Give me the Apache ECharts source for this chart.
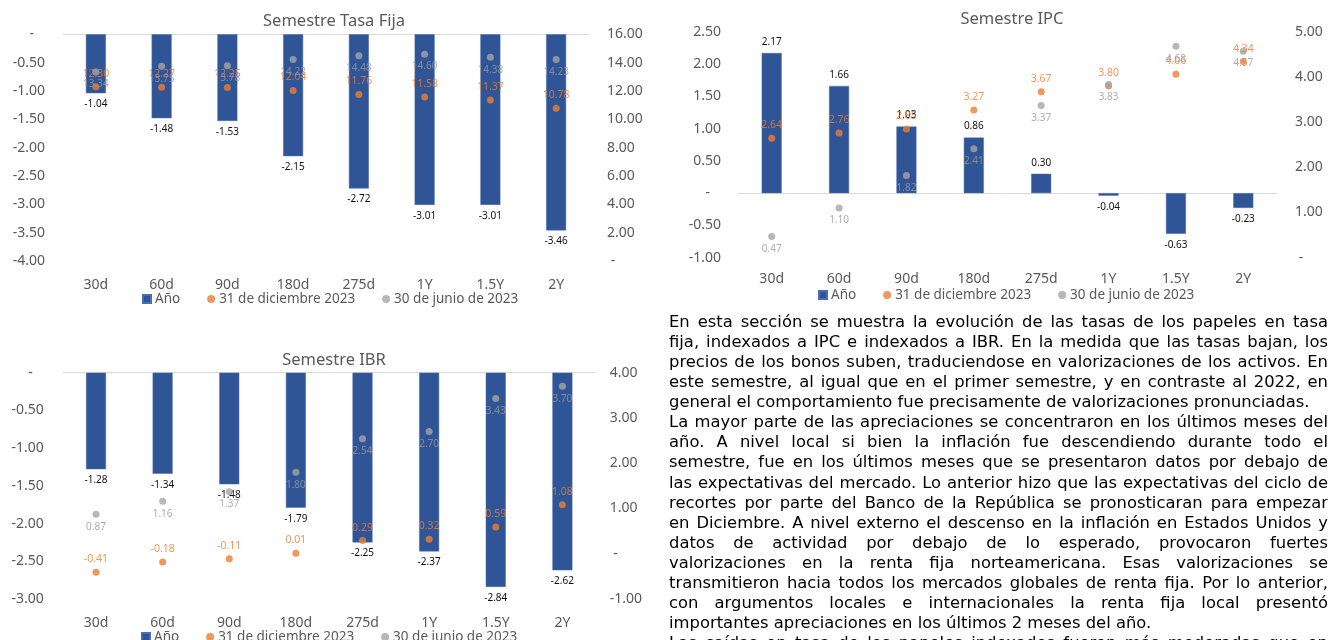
<!DOCTYPE html>
<html>
<head>
<meta charset="utf-8">
<script src="https://cdn.jsdelivr.net/npm/echarts@6/dist/echarts.min.js"></script>
<style>
html,body{margin:0;padding:0;background:#fff;overflow:hidden;}
#chart{position:absolute;left:0;top:0;width:1337px;height:640px;}
#txt{position:absolute;left:669px;top:312px;width:659px;height:340px;overflow:visible;}
#inner{transform-origin:0 0;font-family:"DejaVu Sans",Verdana,sans-serif;font-size:15px;color:#000;}
#inner div{height:20.07px;line-height:20.07px;white-space:nowrap;}
#inner div.j{text-align:justify;text-align-last:justify;white-space:normal;overflow:hidden;}
#inner div.l{text-align:left;}
</style>
</head>
<body>
<div id="chart"></div>
<div id="txt"><div id="inner">
<div class="j">En esta sección se muestra la evolución de las tasas de los papeles en tasa</div>
<div class="j">fija, indexados a IPC e indexados a IBR. En la medida que las tasas bajan, los</div>
<div class="j">precios de los bonos suben, traduciendose en valorizaciones de los activos. En</div>
<div class="j">este semestre, al igual que en el primer semestre, y en contraste al 2022, en</div>
<div class="l"><span id="ref">general el comportamiento fue precisamente de valorizaciones pronunciadas.</span></div>
<div class="j">La mayor parte de las apreciaciones se concentraron en los últimos meses del</div>
<div class="j">año. A nivel local si bien la inflación fue descendiendo durante todo el</div>
<div class="j">semestre, fue en los últimos meses que se presentaron datos por debajo de</div>
<div class="j">las expectativas del mercado. Lo anterior hizo que las expectativas del ciclo de</div>
<div class="j">recortes por parte del Banco de la República se pronosticaran para empezar</div>
<div class="j">en Diciembre. A nivel externo el descenso en la inflación en Estados Unidos y</div>
<div class="j">datos de actividad por debajo de lo esperado, provocaron fuertes</div>
<div class="j">valorizaciones en la renta fija norteamericana. Esas valorizaciones se</div>
<div class="j">transmitieron hacia todos los mercados globales de renta fija. Por lo anterior,</div>
<div class="j">con argumentos locales e internacionales la renta fija local presentó</div>
<div class="l">importantes apreciaciones en los últimos 2 meses del año.</div>
<div class="j">Las caídas en tasa de los papeles indexados fueron más moderadas que en</div>
</div></div>
<script>
// ---- Data ----
const categories = ['30d', '60d', '90d', '180d', '275d', '1Y', '1.5Y', '2Y'];
const seriesNames = ['Año', '31 de diciembre 2023', '30 de junio de 2023'];
const titles = ['Semestre Tasa Fija', 'Semestre IPC', 'Semestre IBR'];

const fijaAnio = [-1.04, -1.48, -1.53, -2.15, -2.72, -3.01, -3.01, -3.46];
const fijaDic  = [12.30, 12.27, 12.25, 12.04, 11.76, 11.58, 11.37, 10.78];
const fijaJun  = [13.34, 13.75, 13.78, 14.22, 14.48, 14.60, 14.38, 14.23];

const ipcAnio = [2.17, 1.66, 1.03, 0.86, 0.30, -0.04, -0.63, -0.23];
const ipcDic  = [2.64, 2.76, 2.85, 3.27, 3.67, 3.80, 4.06, 4.34];
const ipcJun  = [0.47, 1.10, 1.82, 2.41, 3.37, 3.83, 4.68, 4.57];

const ibrAnio = [-1.28, -1.34, -1.48, -1.79, -2.25, -2.37, -2.84, -2.62];
const ibrDic  = [-0.41, -0.18, -0.11, 0.01, 0.29, 0.32, 0.59, 1.08];
const ibrJun  = [0.87, 1.16, 1.37, 1.80, 2.54, 2.70, 3.43, 3.70];

// axis ranges [min, max, interval]
const fijaLeft = [-4, 0, 0.5], fijaRight = [0, 16, 2];
const ipcLeft = [-1, 2.5, 0.5], ipcRight = [0, 5, 1];
const ibrLeft = [-3, 0, 0.5], ibrRight = [-1, 4, 1];

// ---- Styling / layout ----
const FONT = 'Noto Sans';
const AX = '#595959';
const BLUE = '#2F5597', ORANGE = '#ED7D31', GRAY = '#A5A5A5';

const grids = [
  {left: 63, top: 34.3, width: 526, height: 226.7},
  {left: 738, top: 31.7, width: 539, height: 226},
  {left: 62.7, top: 372.7, width: 533, height: 226.3}
];
const titlePos = [{x: 329, y: 8}, {x: 1007, y: 6}, {x: 329, y: 347}];
const legendPos = [{x: 137, y: 287}, {x: 813, y: 283}, {x: 136, y: 625}];
const catMargins = [17, 14, 17];
const rightMargins = [18, 18, 14];
const leftMargins = [18, 17, 19];

const fmt = v => (Math.abs(v) < 1e-9 ? '-' : v.toFixed(2));

const sets = [
  [fijaAnio, fijaDic, fijaJun, fijaLeft, fijaRight],
  [ipcAnio, ipcDic, ipcJun, ipcLeft, ipcRight],
  [ibrAnio, ibrDic, ibrJun, ibrLeft, ibrRight]
];

const option = {
  animation: false,
  backgroundColor: '#fff',
  textStyle: {fontFamily: FONT},
  title: [], legend: [], grid: [], xAxis: [], yAxis: [], series: []
};

sets.forEach((s, gi) => {
  const [anio, dic, jun, L, R] = s;
  option.grid.push(Object.assign({containLabel: false}, grids[gi]));
  option.title.push({
    text: titles[gi], left: titlePos[gi].x, top: titlePos[gi].y, textAlign: 'center',
    textStyle: {fontFamily: FONT, fontSize: 16.5, fontWeight: 'normal', color: AX}
  });
  option.legend.push({
    left: legendPos[gi].x, top: legendPos[gi].y, itemWidth: 8, itemHeight: 8, itemGap: 27,
    textStyle: {fontFamily: FONT, fontSize: 13.5, color: AX, padding: [0, 0, 0, -1]},
    data: [
      {name: seriesNames[0], icon: 'rect'},
      {name: seriesNames[1], icon: 'circle'},
      {name: seriesNames[2], icon: 'circle'}
    ]
  });
  option.xAxis.push({
    type: 'category', gridIndex: gi, data: categories,
    axisLine: {show: false}, axisTick: {show: false},
    axisLabel: {color: AX, fontSize: 14, fontFamily: FONT, margin: catMargins[gi]}
  });
  option.yAxis.push({
    type: 'value', gridIndex: gi, position: 'left', min: L[0], max: L[1], interval: L[2],
    splitLine: {show: false}, axisLine: {show: false}, axisTick: {show: false},
    axisLabel: {color: AX, fontSize: 14, fontFamily: FONT, margin: leftMargins[gi],
      formatter: v => (Math.abs(v) < 1e-9 ? '-   ' : v.toFixed(2))}
  });
  option.yAxis.push({
    type: 'value', gridIndex: gi, position: 'right', min: R[0], max: R[1], interval: R[2],
    splitLine: {show: false}, axisLine: {show: false}, axisTick: {show: false},
    axisLabel: {color: AX, fontSize: 14, fontFamily: FONT, margin: rightMargins[gi],
      formatter: v => (Math.abs(v) < 1e-9 ? ' -' : v.toFixed(2))}
  });
  option.series.push({
    type: 'bar', name: seriesNames[0], xAxisIndex: gi, yAxisIndex: 2 * gi,
    barWidth: 20,
    itemStyle: {color: BLUE, borderColor: '#4a6fb0', borderWidth: 0.5},
    data: anio.map(v => ({value: v, label: {position: v < 0 ? 'bottom' : 'top'}})),
    label: {show: true, fontSize: 10, fontFamily: FONT, color: '#111', distance: 6,
      formatter: p => fmt(p.value)},
    markLine: {
      silent: true, symbol: 'none', z: 0,
      lineStyle: {color: '#D9D9D9', width: 1, type: 'solid'},
      label: {show: false}, emphasis: {disabled: true},
      data: [{yAxis: 0}]
    },
    z: 2
  });
  option.series.push({
    type: 'scatter', name: seriesNames[1], xAxisIndex: gi, yAxisIndex: 2 * gi + 1,
    symbolSize: 7, itemStyle: {color: ORANGE}, data: dic,
    label: {show: true, position: 'top', distance: 4, fontSize: 10.5, fontFamily: FONT,
      color: ORANGE, formatter: p => fmt(p.value)},
    z: 3
  });
  option.series.push({
    type: 'scatter', name: seriesNames[2], xAxisIndex: gi, yAxisIndex: 2 * gi + 1,
    symbolSize: 7, itemStyle: {color: GRAY}, data: jun,
    label: {show: true, position: 'bottom', distance: 4, fontSize: 10, fontFamily: FONT,
      color: '#9a9a9a', formatter: p => fmt(p.value)},
    z: 3
  });
});

const chart = echarts.init(document.getElementById('chart'), null, {renderer: 'canvas'});
chart.setOption(option);

// fit paragraph width: last line of first paragraph spans ~640px in the reference
function fitText() {
  const inner = document.getElementById('inner');
  inner.style.transform = 'none';
  inner.style.width = '659px';
  const w = document.getElementById('ref').offsetWidth;
  const s = 640 / w;
  inner.style.width = (659 / s) + 'px';
  inner.style.transform = 'scaleX(' + s + ')';
}
fitText();
if (document.fonts && document.fonts.ready) document.fonts.ready.then(fitText);
</script>
</body>
</html>
